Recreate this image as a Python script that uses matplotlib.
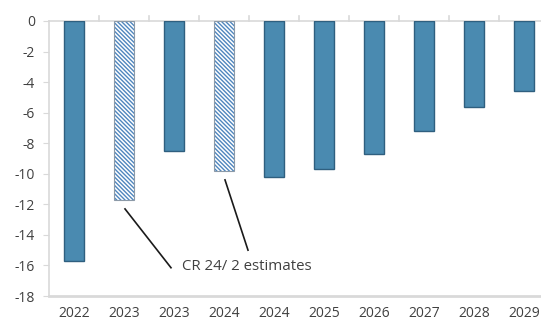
import matplotlib
matplotlib.use("Agg")
import matplotlib.pyplot as plt
import numpy as np

plt.rcParams["font.family"] = ["Open Sans", "DejaVu Sans"]
plt.rcParams["hatch.linewidth"] = 1.0

years = ["2022", "2023", "2023", "2024", "2024", "2025", "2026", "2027", "2028", "2029"]
values = [-15.7, -11.7, -8.5, -9.8, -10.2, -9.7, -8.7, -7.2, -5.6, -4.6]
is_estimate = [False, True, False, True, False, False, False, False, False, False]
note = "CR 24/ 2 estimates"

W, H = 541, 322
fig = plt.figure(figsize=(W / 100, H / 100), dpi=100)
ax = fig.add_axes([49 / W, 1 - 296 / H, 500 / W, 275 / H])

x = np.arange(len(years))
solid = "#4A8AB0"
edge = "#2F5F7F"
for xi, v, est in zip(x, values, is_estimate):
    if est:
        ax.bar(xi, v, width=0.4, facecolor="white", edgecolor="#4F86BE",
               hatch="\\" * 8, linewidth=0.0, zorder=3)
        ax.bar(xi, v, width=0.4, facecolor="none", edgecolor="#8C9AA8",
               linewidth=0.8, zorder=4)
    else:
        ax.bar(xi, v, width=0.4, color=solid, edgecolor=edge, linewidth=1.0, zorder=3)

ax.set_xlim(-0.5, len(years) - 0.5)
ax.set_ylim(-18, 0)
ax.set_yticks(np.arange(-18, 1, 2))
ax.set_yticklabels([str(t) for t in np.arange(-18, 1, 2)])

for s in ["right", "bottom"]:
    ax.spines[s].set_visible(False)
ax.spines["left"].set_color("#D9D9D9")
ax.spines["left"].set_linewidth(1.2)
ax.spines["top"].set_color("#D9D9D9")
ax.spines["top"].set_linewidth(1.2)
ax.axhline(-18, color="#D9D9D9", linewidth=2.0, zorder=1, clip_on=False)

# category ticks on the zero line, pointing up
ax.set_xticks(x)
ax.set_xticklabels([])
ax.tick_params(axis="x", length=0)
for b in np.arange(0.5, len(years) - 0.5, 1.0):
    ax.plot([b, b], [0, 0.35], color="#D9D9D9", lw=1.2, clip_on=False, zorder=2)
for xi, lab in zip(x, years):
    ax.text(xi, -19.15, lab, ha="center", va="center", fontsize=10, color="#404040")

ax.tick_params(axis="y", length=4, color="#D9D9D9", labelsize=10, labelcolor="#404040", pad=6)

# annotation for the estimate bars
ax.text(2.16, -16.05, note, ha="left", va="center", fontsize=10.8, color="#404040")
ax.plot([1.02, 1.94], [-12.3, -16.15], color="#1A1A1A", lw=1.2)
ax.plot([3.02, 3.48], [-10.4, -15.0], color="#1A1A1A", lw=1.2)

fig.savefig("out.png", dpi=100)
